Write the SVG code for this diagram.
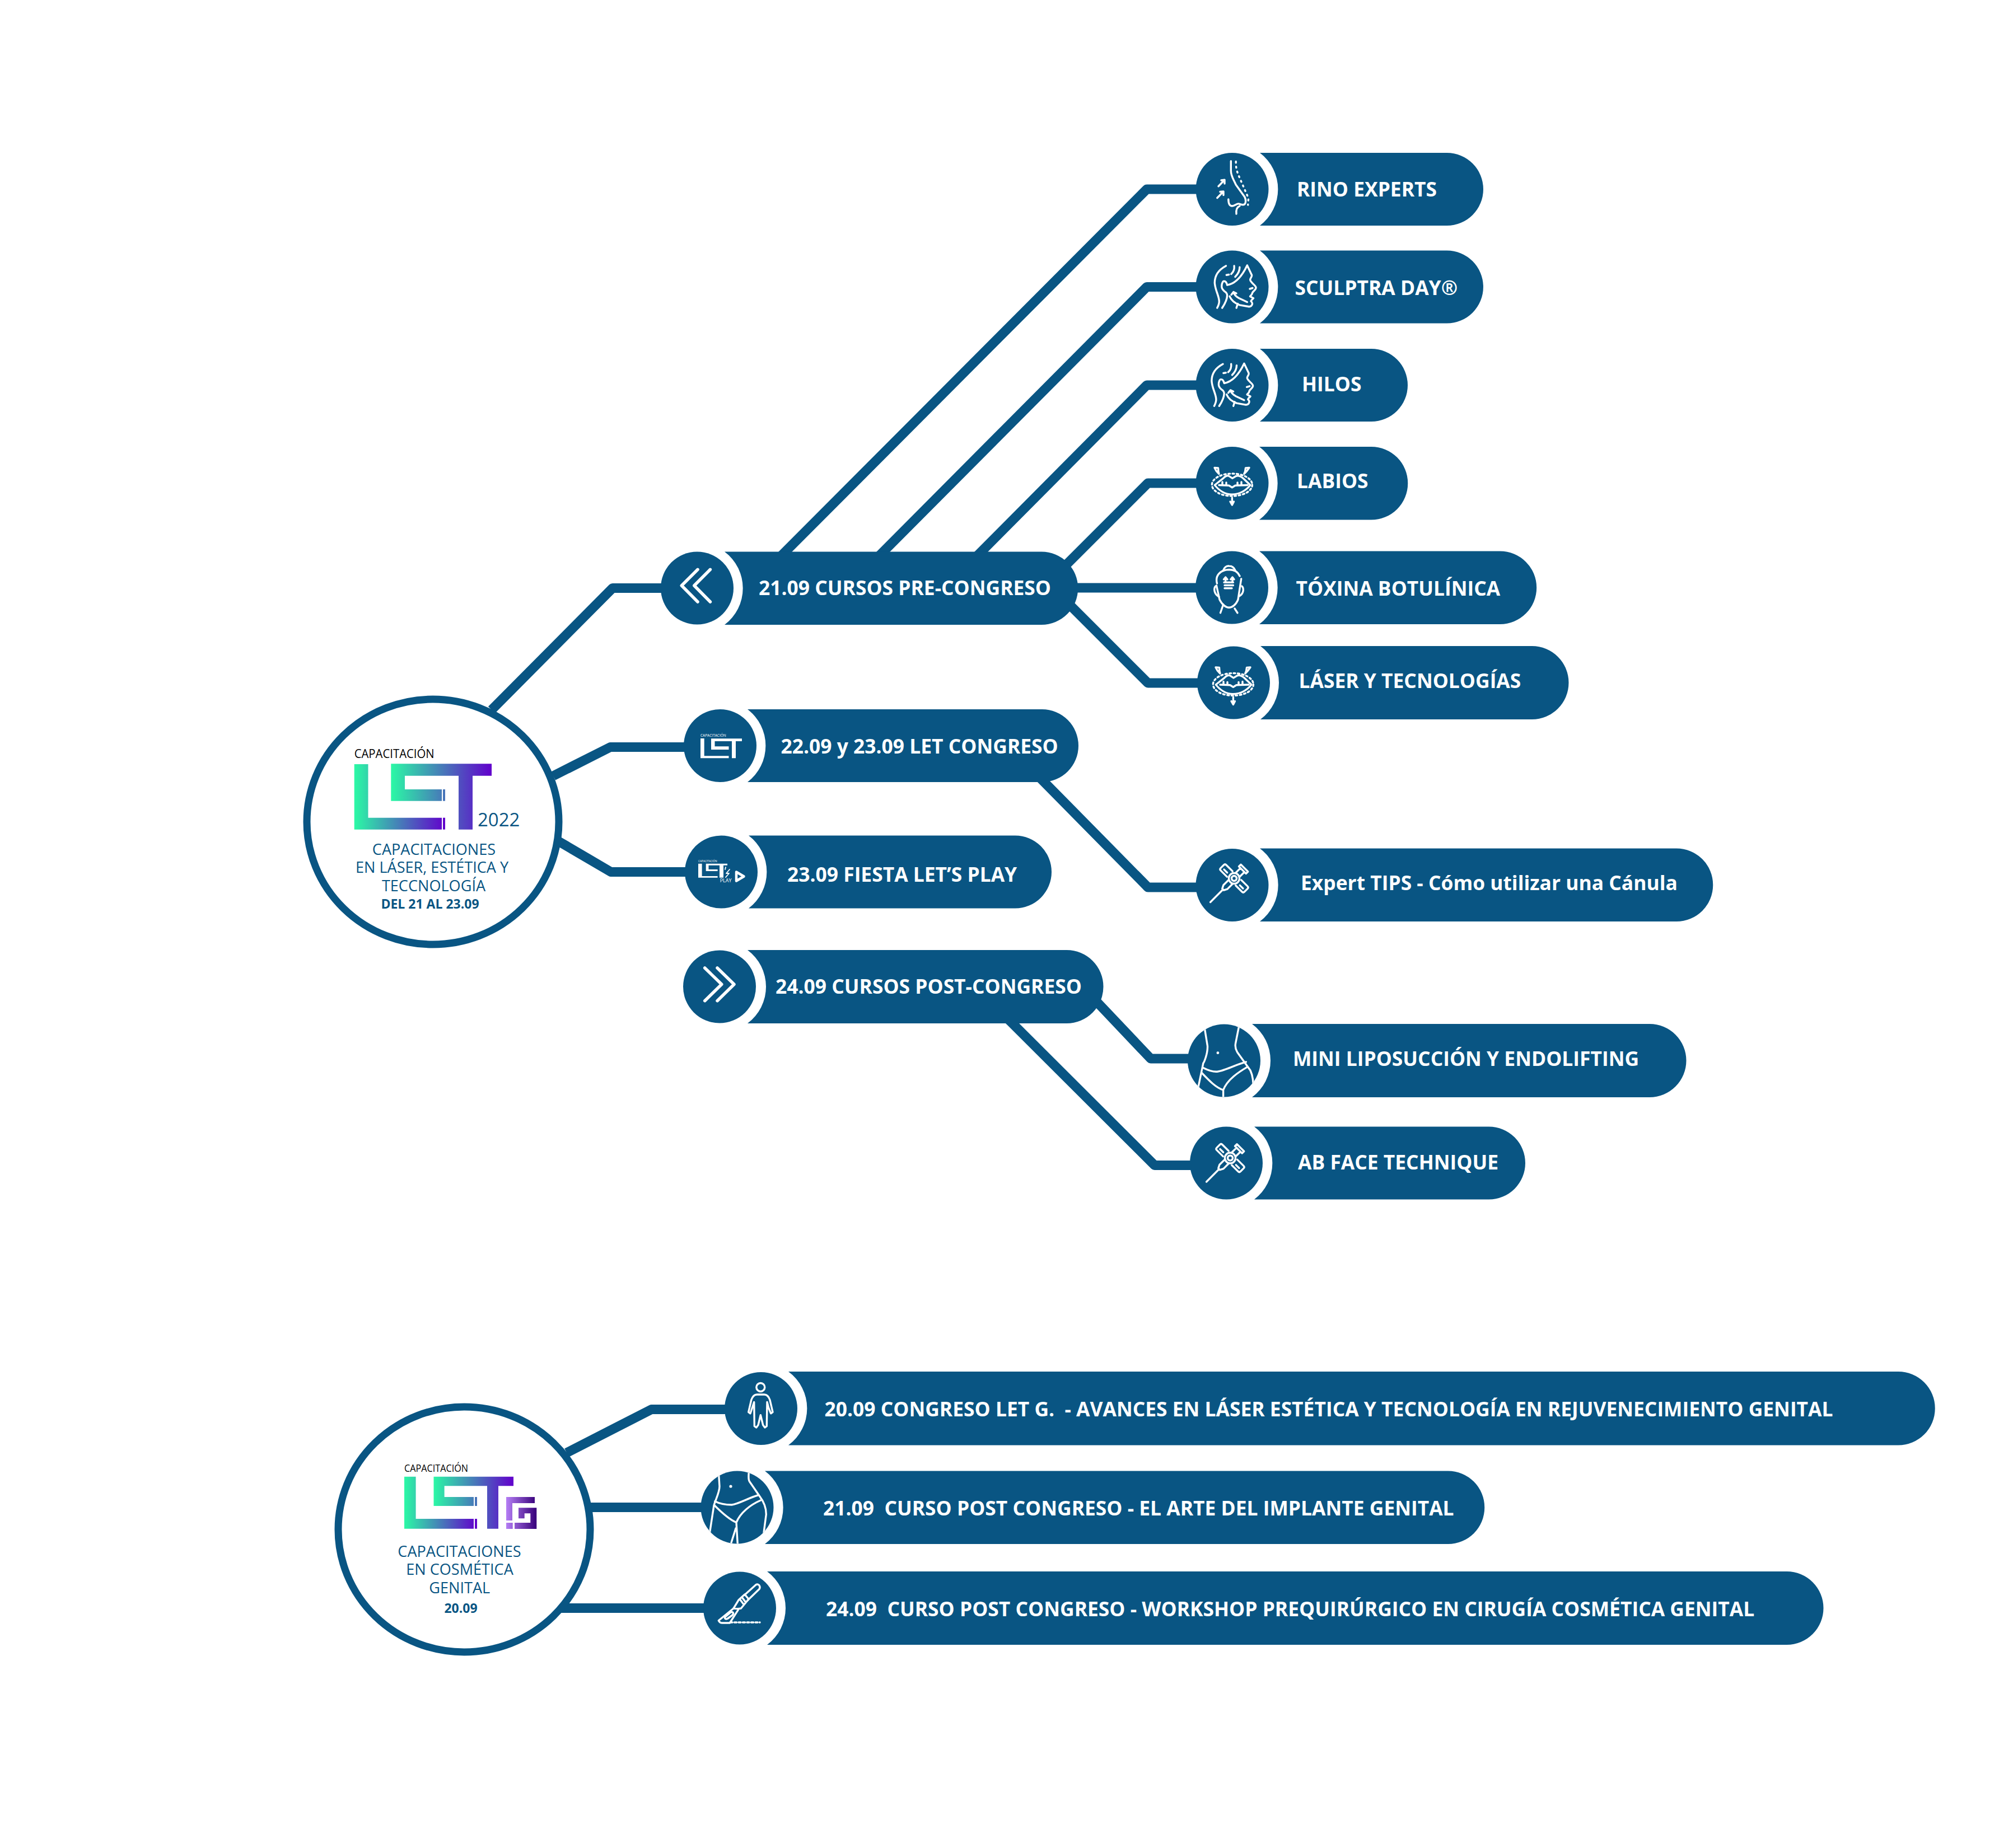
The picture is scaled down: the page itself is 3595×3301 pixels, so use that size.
<svg xmlns="http://www.w3.org/2000/svg" width="3595" height="3301" viewBox="0 0 3595 3301">
<style>
text{font-family:"Open Sans","Liberation Sans",sans-serif;white-space:pre}
.pill,.disc{fill:#095583}
.conn{fill:none;stroke:#095583;stroke-width:17;stroke-linejoin:round}
.hub{fill:#fff;stroke:#095583;stroke-width:13}
.label{fill:#fff;font-size:35.4px;font-weight:700}
.i{fill:none;stroke:#fff;stroke-width:3.4;stroke-linecap:round;stroke-linejoin:round}
.sub{fill:#095583;font-size:27.1px;font-weight:400;text-anchor:middle}
.sub2{fill:#095583;font-size:23px;font-weight:700;text-anchor:middle}
.w{fill:#fff}
</style>
<defs>
<linearGradient id="g1" gradientUnits="userSpaceOnUse" x1="698" x2="878" y1="0" y2="0"><stop offset="0" stop-color="#2bf9a5"/><stop offset="1" stop-color="#6200cc"/></linearGradient>
<linearGradient id="g2" gradientUnits="userSpaceOnUse" x1="633" x2="795" y1="0" y2="0"><stop offset="0" stop-color="#2bf9a5"/><stop offset="1" stop-color="#6200cc"/></linearGradient>
<linearGradient id="g3" gradientUnits="userSpaceOnUse" x1="774" x2="917" y1="0" y2="0"><stop offset="0" stop-color="#2bf9a5"/><stop offset="1" stop-color="#6200cc"/></linearGradient>
<linearGradient id="g4" gradientUnits="userSpaceOnUse" x1="722" x2="852" y1="0" y2="0"><stop offset="0" stop-color="#2bf9a5"/><stop offset="1" stop-color="#6200cc"/></linearGradient>
<linearGradient id="g5" gradientUnits="userSpaceOnUse" x1="904" x2="958" y1="0" y2="0"><stop offset="0" stop-color="#b57ef5"/><stop offset="1" stop-color="#37007a"/></linearGradient>
<clipPath id="c1"><circle cx="2186" cy="1896.5" r="65"/></clipPath>
<clipPath id="c2"><circle cx="1316.5" cy="2694.5" r="65"/></clipPath>
<g id="face" class="i">
<path d="M2189.4 476.4C2175 484 2169.3 495 2169.3 506.5C2170 520 2177.3 530 2177.3 540C2177.3 545 2175 549 2173.8 551.5"/>
<path d="M2182.7 551.5C2187 545 2191.6 535 2191.6 529C2191.6 526 2190 525 2189.4 523.8C2184 520 2181.8 516 2181.8 513.4C2181.8 507 2184 503.8 2186 503.8C2189 503.8 2190.7 506.5 2191.6 510.7C2207 508 2218 495 2227.3 475.4L2235.5 492.7C2236.3 496 2232.7 498 2232.7 501.3C2232.7 506 2243 511 2243 515.2C2243 520 2236.3 522 2236.3 525.6C2236.3 528 2232.5 530 2232.5 531L2238.5 534.2C2236 537 2234 538 2234 539.5C2236 541 2236.8 543 2236.3 545C2235 549 2231.5 549.5 2229 549L2213.9 546.3C2205 543 2199 538 2196 530.8"/>
<path d="M2210.4 544L2208.1 551.5"/>
<path d="M2227.3 541L2213 534.2C2207 531 2204 528 2202.8 523.1M2199 528L2202.8 523.1L2208 525.5"/>
<path d="M2204.1 476.4C2205 483 2203 487 2198.8 491M2213.9 478.8C2214 486 2211 491 2205.9 496M2190.3 492.7L2194.7 492"/>
<path d="M2232 517.5L2237 516"/>
</g>
<g id="lips" class="i">
<path d="M2169.3 866.5L2184.6 854.4C2188 851 2192 849 2194.8 850.3L2200.9 854.4L2207.6 850.3C2211 849 2216 851 2220.3 854.4L2233 866.5C2226 875 2215 883 2199.9 883.1C2187 883 2176 875 2169.3 866.5Z"/>
<path d="M2177 866.5L2194.8 867.2L2200.4 870.7L2206 867.2L2228 866.5"/>
<path d="M2183 866V861M2190 866V862M2210 866V862M2217 866V861"/>
<ellipse cx="2200.4" cy="866" rx="36" ry="20" stroke-dasharray="3 4.5"/>
<path d="M2177 846.5L2172 841L2169 835.4L2175.5 836L2176 842.5ZM2221.8 846.5L2227 841L2231 835.4L2224.5 836L2223.5 842.5ZM2200.4 889V897M2197 896L2200.4 902L2203.5 896"/>
</g>
<g id="cannula" class="i">
<circle r="9.5"/><circle r="4.5"/>
<path d="M-7 -11V-27Q-7 -30 -4 -30H4Q7 -30 7 -27V-11M-7 11V27Q-7 30 -4 30H4Q7 30 7 27V11"/>
<path d="M-1.5 -16V-24M-1.5 16V24"/>
<path d="M9.5 -5H21V5H9.5M21 -9V9M26 -9V9M21 -9H26M21 9H26"/>
<path d="M-9.5 -5H-22L-28 -2V2L-22 5H-9.5M-28 0H-60"/>
</g>
</defs>
<rect width="3595" height="3301" fill="#fff"/>

<g id="connectors">
<path class="conn" d="M878 1268L1094 1050.5H1190"/>
<path class="conn" d="M988 1386L1090 1334.5H1230"/>
<path class="conn" d="M998 1503L1091 1557.5H1230"/>
<path class="conn" d="M1395 993L2048 338H2145"/>
<path class="conn" d="M1570 993L2048 512.5H2145"/>
<path class="conn" d="M1745 993L2048 688H2145"/>
<path class="conn" d="M1900 1013L2050 863H2145"/>
<path class="conn" d="M1900 1050H2145"/>
<path class="conn" d="M1905 1075L2050 1220H2145"/>
<path class="conn" d="M1855 1387L2050 1585H2145"/>
<path class="conn" d="M1945 1775L2055 1891H2130"/>
<path class="conn" d="M1800 1820L2062 2081.5H2135"/>
<path class="conn" d="M1012 2595L1163.5 2517.5H1305"/>
<path class="conn" d="M1050 2692.5H1262"/>
<path class="conn" d="M1000 2872.5H1265"/>
</g>

<g id="hub-let">
<ellipse class="hub" cx="773" cy="1468" rx="225" ry="219"/>
<text x="632.7" y="1354" font-size="22" fill="#000" textLength="143" lengthAdjust="spacingAndGlyphs">CAPACITACIÓN</text>
<path fill="url(#g2)" d="M632.7 1365H657.5V1460.7H789V1481.7H632.7Z"/>
<rect fill="url(#g2)" x="791" y="1460.7" width="4" height="21"/>
<path fill="url(#g1)" d="M698.3 1364.3H878V1385.7H844V1481.7H819V1385.7H723V1410H789V1430.7H698.3Z"/>
<rect fill="url(#g1)" x="791" y="1410" width="4" height="20.7"/>
<text x="853" y="1476" font-size="33" fill="#095583">2022</text>
<text class="sub" x="775" y="1526.7">CAPACITACIONES</text>
<text class="sub" x="771.5" y="1559">EN LÁSER, ESTÉTICA Y</text>
<text class="sub" x="774.5" y="1591.7">TECCNOLOGÍA</text>
<text class="sub2" x="768" y="1622.7">DEL 21 AL 23.09</text>
</g>

<g id="hub-letg">
<ellipse class="hub" cx="829" cy="2732" rx="225" ry="219"/>
<text x="722" y="2629" font-size="18" fill="#000" textLength="114" lengthAdjust="spacingAndGlyphs">CAPACITACIÓN</text>
<path fill="url(#g4)" d="M722 2637.7H742.6V2713H846V2730.7H722Z"/>
<rect fill="url(#g4)" x="848" y="2713" width="4" height="17.7"/>
<path fill="url(#g3)" d="M774.5 2637.7H917V2654.3H890V2730.7H870V2654.3H793.6V2674H846V2690H774.5Z"/>
<rect fill="url(#g3)" x="848" y="2674" width="4" height="16"/>
<path fill="url(#g5)" d="M904 2674H955V2685H915V2716H904ZM904 2720H915.7V2731H904ZM919 2720H947.3V2703.3H936.7V2712.3H926V2693.3H958.3V2731H919Z"/>
<text class="sub" x="820.5" y="2780.7">CAPACITACIONES</text>
<text class="sub" x="821" y="2813">EN COSMÉTICA</text>
<text class="sub" x="820.7" y="2845.7">GENITAL</text>
<text class="sub2" x="823" y="2881">20.09</text>
</g>

<g id="node-pre">
<path class="pill" d="M1294 985.5H1860A65 65 0 0 1 1860 1116H1294A81.5 81.5 0 0 0 1294 985.5Z"/>
<circle class="disc" cx="1245" cy="1050.5" r="65"/>
<path class="i" style="stroke-width:5.5" d="M1246 1017.3L1217.3 1046L1246 1075M1268.4 1017.3L1239.8 1046L1268.4 1075"/>
<text class="label" x="1355" y="1063">21.09 CURSOS PRE-CONGRESO</text>
</g>
<g id="node-let">
<path class="pill" d="M1335 1267H1861A65 65 0 0 1 1861 1397H1335A81.5 81.5 0 0 0 1335 1267Z"/>
<circle class="disc" cx="1286" cy="1332" r="65"/>
<text x="1251" y="1316" font-size="6.5" class="w">CAPACITACIÓN</text>
<path class="w" d="M1251 1319H1257.7V1350.3H1301.5V1354.3H1251ZM1270 1319.3H1325V1324H1314V1354.3H1307V1324H1276.5V1333.3H1301.5V1339H1270Z"/>
<text class="label" x="1394.5" y="1346">22.09 y 23.09 LET CONGRESO</text>
</g>
<g id="node-fiesta">
<path class="pill" d="M1337 1492.5H1813A65 65 0 0 1 1813 1622.5H1337A81.5 81.5 0 0 0 1337 1492.5Z"/>
<circle class="disc" cx="1288" cy="1557.5" r="65"/>
<text x="1247" y="1540" font-size="4.8" class="w">CAPACITACIÓN</text>
<path class="w" d="M1247 1542.7H1253.6V1565H1281.6V1567.7H1247ZM1260.7 1542.7H1299V1545.7H1292V1567.7H1285V1545.7H1265.5V1553H1281.6V1556H1260.7Z"/>
<path class="i" style="stroke-width:1.8" d="M1296 1549L1295 1553M1303 1553L1297 1560H1302L1296 1567"/>
<text x="1285.7" y="1575.5" font-size="9" class="w">PLAY</text>
<path class="i" style="stroke-width:4.5" d="M1315 1557.5L1328.5 1565.5L1315 1573.5Z"/>
<text class="label" x="1406" y="1574.5">23.09 FIESTA LET’S PLAY</text>
</g>
<g id="node-post">
<path class="pill" d="M1335 1697H1905A65 65 0 0 1 1905 1828H1335A81.5 81.5 0 0 0 1335 1697Z"/>
<circle class="disc" cx="1285" cy="1762.5" r="65"/>
<path class="i" style="stroke-width:5.5" d="M1258.7 1729L1288.8 1758.3L1258.7 1787.7M1281 1729L1311 1758.3L1281 1787.7"/>
<text class="label" x="1385" y="1774.5">24.09 CURSOS POST-CONGRESO</text>
</g>

<g id="node-rino">
<path class="pill" d="M2250 273H2584A65 65 0 0 1 2584 403H2250A81.5 81.5 0 0 0 2250 273Z"/>
<circle class="disc" cx="2200.5" cy="338" r="65"/>
<path class="i" d="M2198.3 287.8V305C2198.3 315 2203 320 2207.2 330L2223 352C2225.5 358 2225 362 2222.9 364.6C2219 368 2215 363.9 2211.7 363.9C2208 363.9 2205 368 2200.5 368C2196 368 2193.8 364 2193.8 356M2213.9 368C2209 370 2207.2 375 2208 382"/>
<path class="i" stroke-dasharray="2 7" d="M2207.2 288.5C2207 300 2209 305 2211 311L2222.9 338.6L2229.6 354L2228.7 366"/>
<path class="i" d="M2176 332.8L2187 321.3M2181 322L2187 321.3L2187 328M2173.8 353.5L2185 342M2179 342.5L2185 342L2185 348.5"/>
<text class="label" x="2316" y="351">RINO EXPERTS</text>
</g>
<g id="node-sculptra" transform="translate(0 -1.5)">
<path class="pill" d="M2250 449H2584A65 65 0 0 1 2584 579H2250A81.5 81.5 0 0 0 2250 449Z"/>
<circle class="disc" cx="2200.5" cy="514" r="65"/>
<use href="#face"/>
<text class="label" x="2312.5" y="528">SCULPTRA DAY®</text>
</g>
<g id="node-hilos" transform="translate(0 -2)">
<path class="pill" d="M2250 625H2449A65 65 0 0 1 2449 755H2250A81.5 81.5 0 0 0 2250 625Z"/>
<circle class="disc" cx="2200.5" cy="690" r="65"/>
<use href="#face" transform="translate(-5.4 175.8)"/>
<text class="label" x="2325" y="701">HILOS</text>
</g>
<g id="node-labios">
<path class="pill" d="M2249 798H2449A65 65 0 0 1 2449 928.5H2249A81.5 81.5 0 0 0 2249 798Z"/>
<circle class="disc" cx="2200.5" cy="863" r="65"/>
<use href="#lips"/>
<text class="label" x="2316" y="872">LABIOS</text>
</g>
<g id="node-toxina" transform="translate(0 -1)">
<path class="pill" d="M2249 985.5H2679A65 65 0 0 1 2679 1116H2249A81.5 81.5 0 0 0 2249 985.5Z"/>
<circle class="disc" cx="2200" cy="1050.5" r="65"/>
<g class="i">
<path d="M2173.4 1043C2170 1030 2178 1019 2194.8 1018.5C2204 1018.5 2211 1023 2214 1030"/>
<path d="M2184.6 1020.6C2186 1014 2191 1011.5 2195 1012C2200 1012 2204 1015 2206 1020"/>
<path d="M2172.5 1047L2178 1072C2183 1082 2190 1086.3 2194.8 1086.3C2200 1086.3 2207 1082 2211 1072L2216.7 1035"/>
<path d="M2171 1048C2167 1052 2168 1062 2177 1067M2217.8 1048C2222 1052 2221 1061 2213.7 1065.6"/>
<path d="M2184.6 1081L2179.5 1095.7M2205 1088L2210 1095.7"/>
<path d="M2188.7 1041.3V1033M2201 1041.3V1033M2185.5 1036L2188.7 1032L2192 1036M2197.8 1036L2201 1032L2204 1036M2186 1041.3H2202.4M2187 1046.5H2202.4M2187 1051.7H2200"/>
</g>
<text class="label" x="2314.5" y="1064.5">TÓXINA BOTULÍNICA</text>
</g>
<g id="node-laser" transform="translate(0 -2)">
<path class="pill" d="M2251 1156H2736A65 65 0 0 1 2736 1287H2251A81.5 81.5 0 0 0 2251 1156Z"/>
<circle class="disc" cx="2203" cy="1221.5" r="65"/>
<use href="#lips" transform="translate(2 358.5)"/>
<text class="label" x="2319.5" y="1230.5">LÁSER Y TECNOLOGÍAS</text>
</g>
<g id="node-expert" transform="translate(0 -1)">
<path class="pill" d="M2250 1516.5H2994A65 65 0 0 1 2994 1647H2250A81.5 81.5 0 0 0 2250 1516.5Z"/>
<circle class="disc" cx="2200.5" cy="1582" r="65"/>
<use href="#cannula" transform="translate(2204 1570) rotate(-45)"/>
<text class="label" x="2323" y="1591">Expert TIPS - Cómo utilizar una Cánula</text>
</g>
<g id="node-mini" transform="translate(0 -2)">
<path class="pill" d="M2236 1831H2946A65 65 0 0 1 2946 1962H2236A81.5 81.5 0 0 0 2236 1831Z"/>
<circle class="disc" cx="2186" cy="1896.5" r="65"/>
<g class="i" clip-path="url(#c1)">
<path d="M2149.9 1830L2156.5 1870.5C2157 1885 2150 1900 2148.9 1901L2138.7 1950"/>
<path d="M2213.7 1830L2206.5 1866.2C2205 1875 2209 1880 2210 1882L2233 1914C2238 1925 2238 1935 2238.2 1945"/>
<path d="M2147.9 1908.9C2158 1914 2165 1916.3 2171.8 1916.3C2185 1916 2205 1904 2225.4 1898.9"/>
<path d="M2146.3 1918.5C2160 1933 2172 1945 2184.6 1949M2228 1907.6C2212 1917 2192 1930 2184.6 1949V1965"/>
</g>
<circle class="w" cx="2174.9" cy="1882.7" r="2.4"/>
<text class="label" x="2309" y="1905.5">MINI LIPOSUCCIÓN Y ENDOLIFTING</text>
</g>
<g id="node-ab" transform="translate(0 -2.5)">
<path class="pill" d="M2240 2015H2659A65 65 0 0 1 2659 2145H2240A81.5 81.5 0 0 0 2240 2015Z"/>
<circle class="disc" cx="2190" cy="2080" r="65"/>
<use href="#cannula" transform="translate(2197 2071) rotate(-45)"/>
<text class="label" x="2318" y="2091.5">AB FACE TECHNIQUE</text>
</g>

<g id="node-g20">
<path class="pill" d="M1408 2450H3390A65 65 0 0 1 3390 2581.5H1408A81.5 81.5 0 0 0 1408 2450Z"/>
<circle class="disc" cx="1359" cy="2516" r="65"/>
<g class="i">
<circle cx="1358.3" cy="2478" r="7.5"/>
<path d="M1358.3 2491H1365C1370 2491 1373 2495 1375 2500.8L1380 2522.3L1376.7 2524.8L1372.7 2515L1370 2504.4L1369.3 2547.4L1366 2550L1362.7 2545.6L1358.3 2527.7L1354 2545.6L1350.7 2550L1347.3 2547.4L1346.7 2504.4L1343.3 2515L1340 2524.8L1336.7 2522.3L1341.7 2500.8C1343.7 2495 1346.7 2491 1351.7 2491Z"/>
</g>
<text class="label" x="1472.5" y="2530">20.09 CONGRESO LET G.  - AVANCES EN LÁSER ESTÉTICA Y TECNOLOGÍA EN REJUVENECIMIENTO GENITAL</text>
</g>
<g id="node-g21" transform="translate(0 -2)">
<path class="pill" d="M1366 2629.5H2586A65 65 0 0 1 2586 2760H1366A81.5 81.5 0 0 0 1366 2629.5Z"/>
<circle class="disc" cx="1316.5" cy="2694.5" r="65"/>
<g class="i" clip-path="url(#c2)">
<path d="M1283.3 2630L1285 2657C1285 2668 1278 2680 1275 2691L1266.7 2745"/>
<path d="M1337.3 2630C1337 2640 1336 2644 1338.3 2648L1356.7 2674.8C1366 2687 1368.3 2697 1368.3 2707L1363.3 2745"/>
<path d="M1276.7 2683.8C1285 2688 1296 2690 1306.7 2690C1320 2688 1336 2678 1353.3 2673"/>
<path d="M1276 2691C1288 2703 1302 2716 1315 2721.5M1358.3 2682C1340 2690 1322 2704 1315 2721.5L1317.3 2760M1314 2732L1306 2757.4"/>
</g>
<circle class="w" cx="1305" cy="2657" r="2.6"/>
<text class="label" x="1470" y="2709">21.09  CURSO POST CONGRESO - EL ARTE DEL IMPLANTE GENITAL</text>
</g>
<g id="node-g24" transform="translate(0 -2)">
<path class="pill" d="M1370 2809H3191A65 65 0 0 1 3191 2940H1370A81.5 81.5 0 0 0 1370 2809Z"/>
<circle class="disc" cx="1321" cy="2874.5" r="65"/>
<g class="i">
<path d="M1330 2850.7L1350 2832.8C1353 2831 1356 2833 1356.5 2835C1357.5 2837 1357 2839 1356 2840.5L1335 2860.8"/>
<path d="M1319.3 2859.7L1330 2850L1337 2858.5L1323.3 2875L1318.3 2875.8L1310 2875L1319.3 2859.7M1325 2855L1331 2863M1321.5 2859L1327.5 2867"/>
<path d="M1310 2875L1283.3 2896.7C1285 2900 1287 2901 1290 2901H1303.3L1318.3 2877.6"/>
<path d="M1296 2889.5L1305 2882C1309 2880 1311 2884 1308 2887L1299 2893.5C1295 2895 1293 2892 1296 2889.5Z"/>
<path stroke-dasharray="4 3.5" d="M1304 2900H1357"/>
</g>
<text class="label" x="1475" y="2889">24.09  CURSO POST CONGRESO - WORKSHOP PREQUIRÚRGICO EN CIRUGÍA COSMÉTICA GENITAL</text>
</g>
</svg>
